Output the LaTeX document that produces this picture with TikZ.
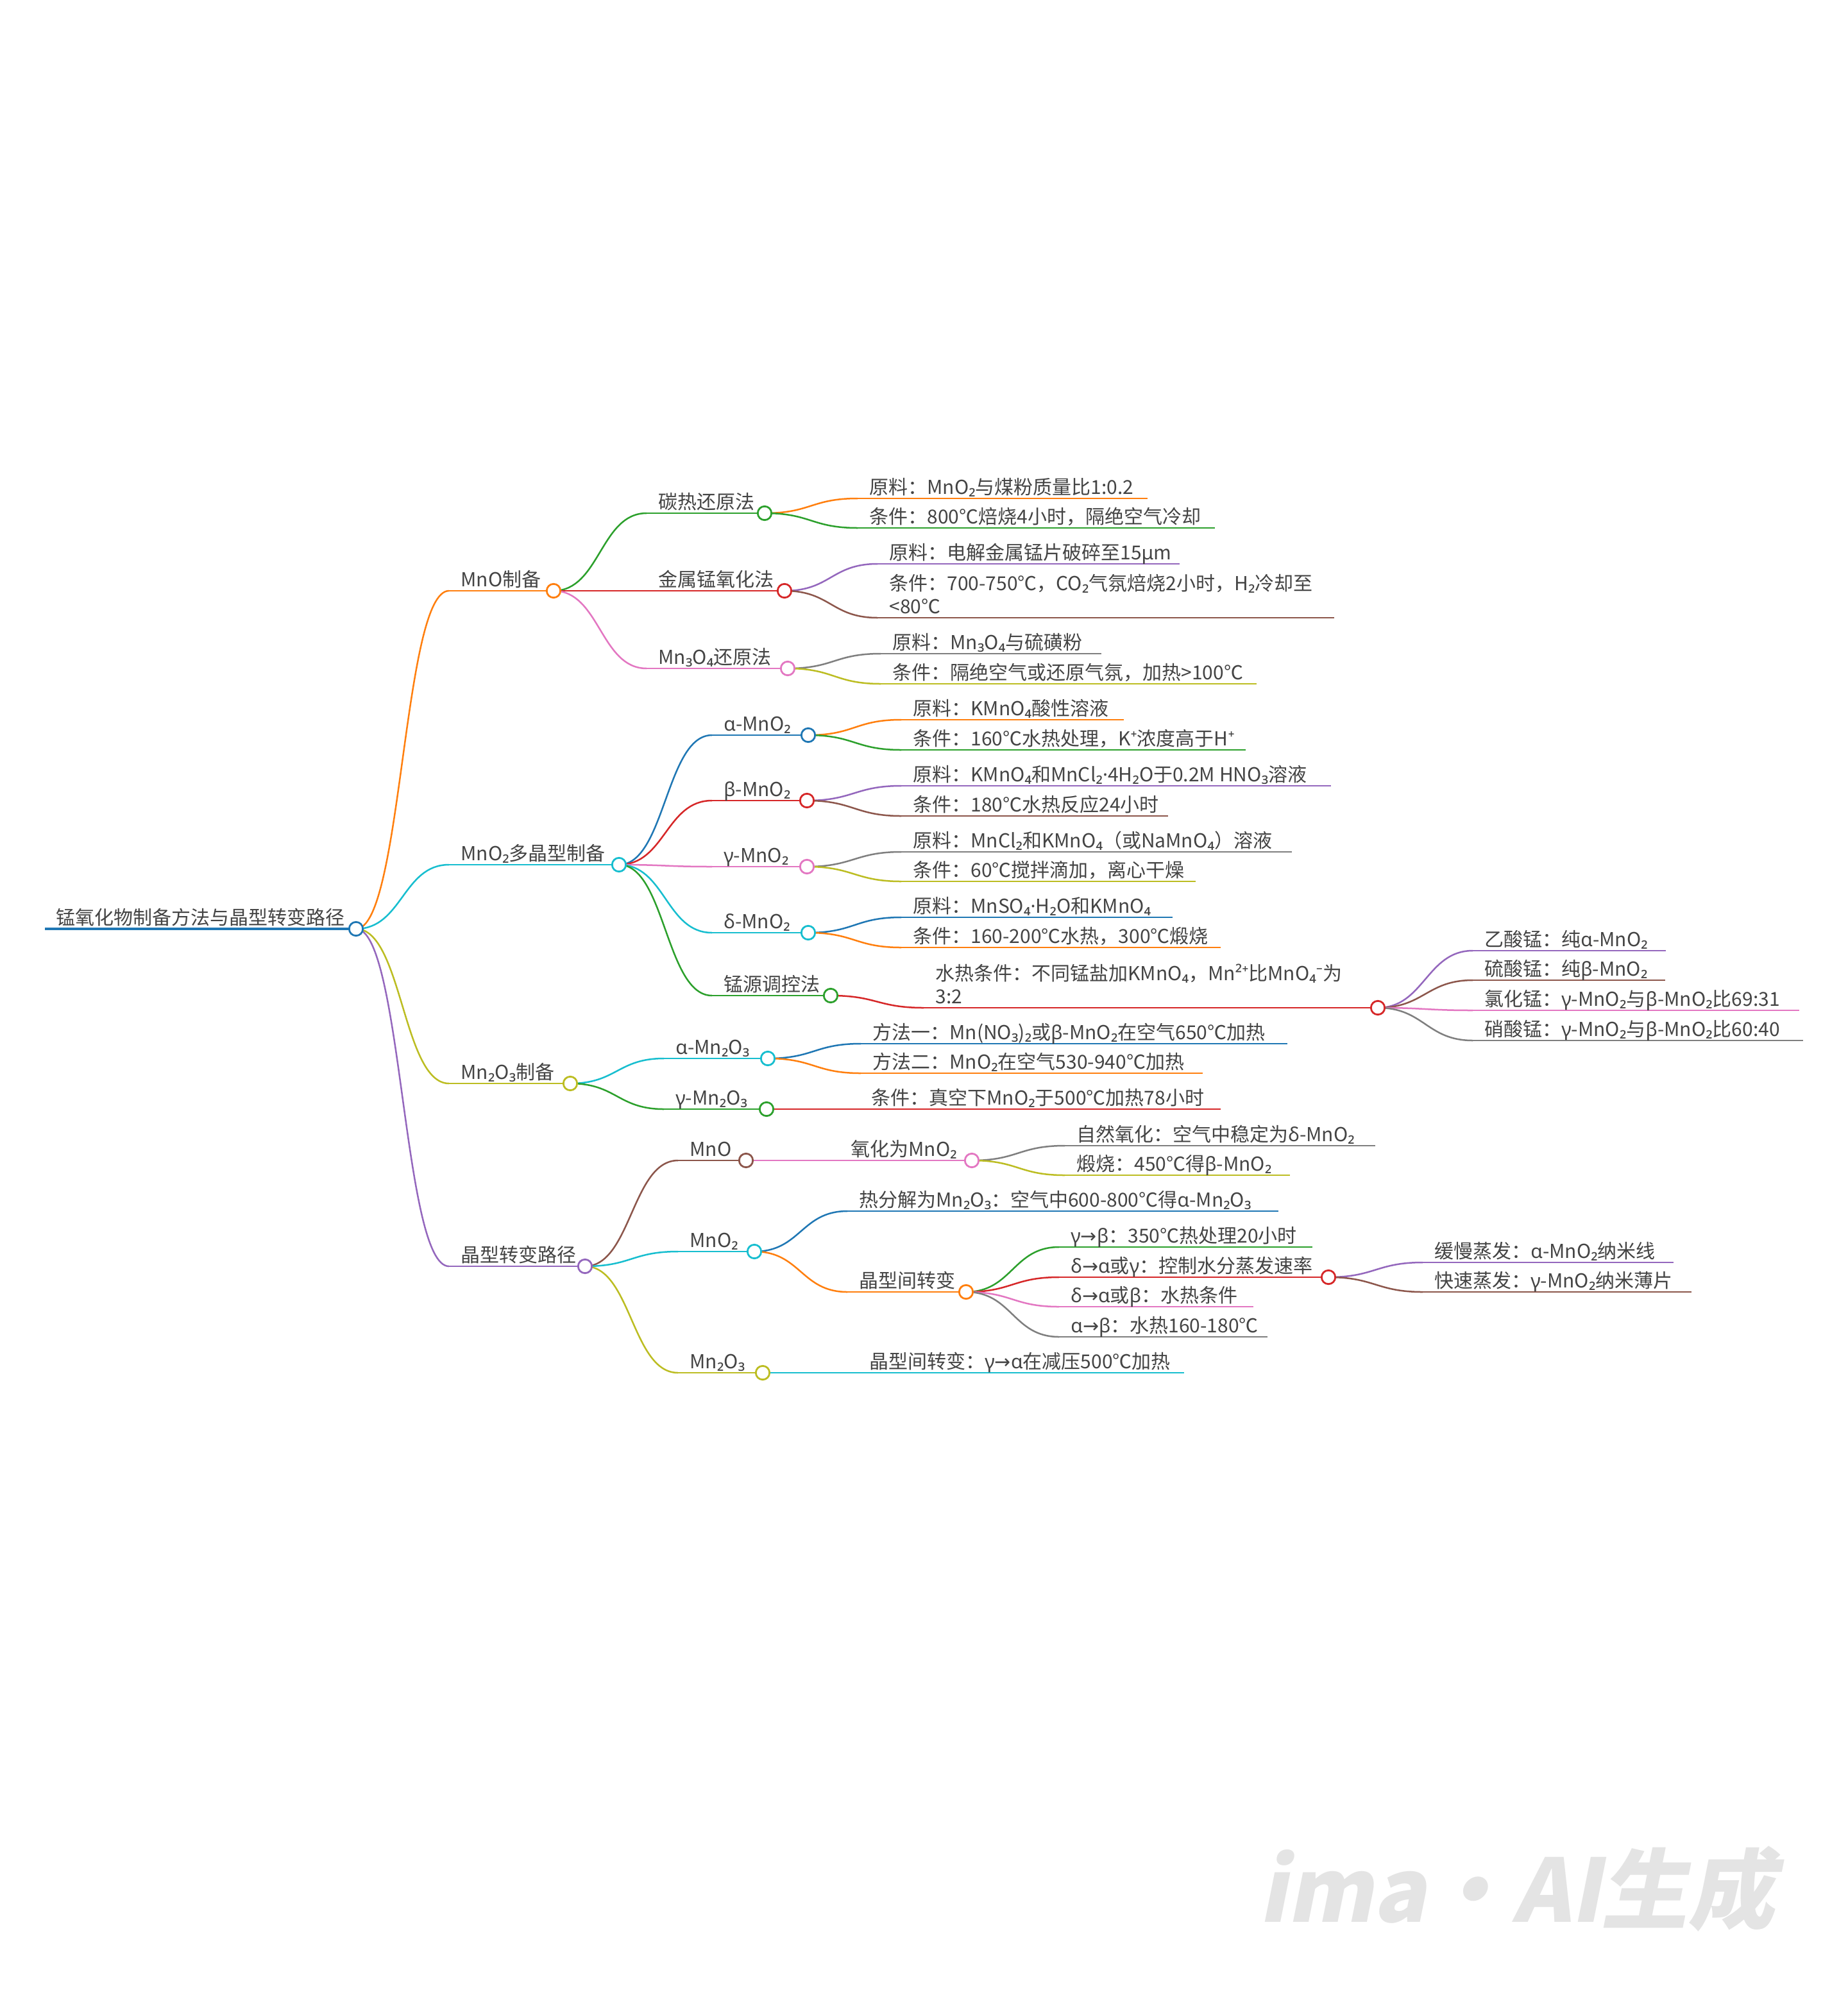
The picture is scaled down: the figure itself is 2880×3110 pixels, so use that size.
\documentclass[tikz,border=0pt]{standalone}
\usepackage{fontspec}
\setmainfont{Noto Sans CJK SC}
\newfontfamily\fb{Noto Sans}
\newfontfamily\fa{DejaVu Sans}
\newfontfamily\wmf{Noto Sans CJK SC}[FakeSlant=0.2,BoldFeatures={FakeSlant=0.2}]
\definecolor{cBlue}{HTML}{1F77B4}
\definecolor{cOrange}{HTML}{FF7F0E}
\definecolor{cGreen}{HTML}{2CA02C}
\definecolor{cRed}{HTML}{D62728}
\definecolor{cPurple}{HTML}{9467BD}
\definecolor{cBrown}{HTML}{8C564B}
\definecolor{cPink}{HTML}{E377C2}
\definecolor{cGray}{HTML}{7F7F7F}
\definecolor{cOlive}{HTML}{BCBD22}
\definecolor{cCyan}{HTML}{17BECF}
\definecolor{txtc}{HTML}{444444}
\definecolor{wmc}{HTML}{E4E4E4}
\tikzset{
  ul/.style={line width=1.45pt},
  rootul/.style={line width=1.9pt},
  lk/.style={line width=1.25pt},
  dot/.style={circle, fill=white, line width=1.4pt, minimum size=10.7pt, inner sep=0pt},
  tx/.style={anchor=base west, inner sep=0pt, text=txtc, font=\fontsize{15}{18}\selectfont},
  wm/.style={anchor=base west, inner sep=0pt, text=wmc, font=\wmf\bfseries\fontsize{68}{80}\selectfont}
}
\newcommand\mnode[6]{%
  \coordinate (#1s) at (#2,#3);
  \coordinate (#1) at (#4,#3);
  \draw[ul,draw=#5] (#1s) -- (#1);
  \node[tx] (#1t) at (#2+18,#3-7) {#6};}
\newcommand\mnodeii[7]{%
  \coordinate (#1s) at (#2,#3);
  \coordinate (#1) at (#4,#3);
  \draw[ul,draw=#5] (#1s) -- (#1);
  \node[tx] (#1t) at (#2+18,#3-7) {\begin{tabular}[b]{@{}l@{}}#6\\#7\end{tabular}};}
\newcommand\lnk[3]{\draw[lk,draw=#3] (#1) to[out=0,in=180,out distance=36pt,in distance=36pt] (#2s);}
\newcommand\dotc[2]{\node[dot,draw=#2] (#1c) at (#1) {};}
\begin{document}
\begin{tikzpicture}[x=0.5pt,y=-0.5pt]
\fill[white] (0,0) rectangle (2880,3110);
\useasboundingbox (0,0) rectangle (2880,3110);
% root
\coordinate (rs) at (70,1448);
\coordinate (r) at (555,1448);
\draw[rootul,draw=cBlue] (rs) -- (r);
\node[tx] (rt) at (87,1441) {锰氧化物制备方法与晶型转变路径};
% level 1
\mnode{a}{700}{921}{863}{cOrange}{MnO制备}
\mnode{b}{700}{1348}{965}{cCyan}{MnO{\fb ₂}多晶型制备}
\mnode{c}{700}{1689}{889}{cOlive}{Mn{\fb ₂}O{\fb ₃}制备}
\mnode{d}{700}{1974}{912}{cPurple}{晶型转变路径}
% MnO
\mnode{a1}{1008}{800}{1192}{cGreen}{碳热还原法}
\mnode{a2}{1008}{921}{1223}{cRed}{金属锰氧化法}
\mnode{a3}{1008}{1042}{1228}{cPink}{Mn{\fb ₃}O{\fb ₄}还原法}
\mnode{a1a}{1337}{777}{1789}{cOrange}{原料：MnO{\fb ₂}与煤粉质量比1:0.2}
\mnode{a1b}{1337}{823}{1894}{cGreen}{条件：800℃焙烧4小时，隔绝空气冷却}
\mnode{a2a}{1368}{879}{1839}{cPurple}{原料：电解金属锰片破碎至15{\fb μ}m}
\mnodeii{a2b}{1368}{963}{2080}{cBrown}{条件：700-750℃，CO{\fb ₂}气氛焙烧2小时，H{\fb ₂}冷却至}{<80℃}
\mnode{a3a}{1373}{1019}{1717}{cGray}{原料：Mn{\fb ₃}O{\fb ₄}与硫磺粉}
\mnode{a3b}{1373}{1066}{1959}{cOlive}{条件：隔绝空气或还原气氛，加热>100℃}
% MnO2
\mnode{b1}{1110}{1146}{1260}{cBlue}{{\fb α}-MnO{\fb ₂}}
\mnode{b2}{1110}{1248}{1258}{cRed}{{\fb β}-MnO{\fb ₂}}
\mnode{b3}{1110}{1351}{1258}{cPink}{{\fb γ}-MnO{\fb ₂}}
\mnode{b4}{1110}{1454}{1260}{cCyan}{{\fb δ}-MnO{\fb ₂}}
\mnode{b5}{1110}{1552}{1295}{cGreen}{锰源调控法}
\mnode{b1a}{1405}{1122}{1752}{cOrange}{原料：KMnO{\fb ₄}酸性溶液}
\mnode{b1b}{1405}{1169}{1942}{cGreen}{条件：160℃水热处理，K{\fb ⁺}浓度高于H{\fb ⁺}}
\mnode{b2a}{1405}{1225}{2075}{cPurple}{原料：KMnO{\fb ₄}和MnCl{\fb ₂·}4H{\fb ₂}O于0.2M HNO{\fb ₃}溶液}
\mnode{b2b}{1405}{1272}{1821}{cBrown}{条件：180℃水热反应24小时}
\mnode{b3a}{1405}{1328}{2014}{cGray}{原料：MnCl{\fb ₂}和KMnO{\fb ₄}（或NaMnO{\fb ₄}）溶液}
\mnode{b3b}{1405}{1374}{1864}{cOlive}{条件：60℃搅拌滴加，离心干燥}
\mnode{b4a}{1405}{1430}{1828}{cBlue}{原料：MnSO{\fb ₄·}H{\fb ₂}O和KMnO{\fb ₄}}
\mnode{b4b}{1405}{1477}{1903}{cOrange}{条件：160-200℃水热，300℃煅烧}
\mnodeii{b5a}{1440}{1571}{2148}{cRed}{水热条件：不同锰盐加KMnO{\fb ₄}，Mn{\fb ²⁺}比MnO{\fb ₄⁻}为}{3:2}
\mnode{b5a1}{2296}{1482}{2597}{cPurple}{乙酸锰：纯{\fb α}-MnO{\fb ₂}}
\mnode{b5a2}{2296}{1528}{2596}{cBrown}{硫酸锰：纯{\fb β}-MnO{\fb ₂}}
\mnode{b5a3}{2296}{1575}{2805}{cPink}{氯化锰：{\fb γ}-MnO{\fb ₂}与{\fb β}-MnO{\fb ₂}比69:31}
\mnode{b5a4}{2296}{1622}{2811}{cGray}{硝酸锰：{\fb γ}-MnO{\fb ₂}与{\fb β}-MnO{\fb ₂}比60:40}
% Mn2O3
\mnode{c1}{1035}{1650}{1197}{cCyan}{{\fb α}-Mn{\fb ₂}O{\fb ₃}}
\mnode{c2}{1035}{1729}{1195}{cGreen}{{\fb γ}-Mn{\fb ₂}O{\fb ₃}}
\mnode{c1a}{1342}{1627}{2007}{cBlue}{方法一：Mn(NO{\fb ₃}){\fb ₂}或{\fb β}-MnO{\fb ₂}在空气650℃加热}
\mnode{c1b}{1342}{1673}{1875}{cOrange}{方法二：MnO{\fb ₂}在空气530-940℃加热}
\mnode{c2a}{1340}{1729}{1903}{cRed}{条件：真空下MnO{\fb ₂}于500℃加热78小时}
% transformation
\mnode{d1}{1057}{1809}{1163}{cBrown}{MnO}
\mnode{d2}{1057}{1951}{1176}{cCyan}{MnO{\fb ₂}}
\mnode{d3}{1057}{2140}{1189}{cOlive}{Mn{\fb ₂}O{\fb ₃}}
\mnode{d1a}{1308}{1809}{1515}{cPink}{氧化为MnO{\fb ₂}}
\mnode{d1a1}{1660}{1786}{2144}{cGray}{自然氧化：空气中稳定为{\fb δ}-MnO{\fb ₂}}
\mnode{d1a2}{1660}{1832}{2011}{cOlive}{煅烧：450℃得{\fb β}-MnO{\fb ₂}}
\mnode{d2a}{1321}{1888}{1993}{cBlue}{热分解为Mn{\fb ₂}O{\fb ₃}：空气中600-800℃得{\fb α}-Mn{\fb ₂}O{\fb ₃}}
\mnode{d2b}{1321}{2014}{1506}{cOrange}{晶型间转变}
\mnode{d2b1}{1651}{1944}{2046}{cGreen}{{\fb γ}{\fa →}{\fb β}：350℃热处理20小时}
\mnode{d2b2}{1651}{1991}{2071}{cRed}{{\fb δ}{\fa →}{\fb α}或{\fb γ}：控制水分蒸发速率}
\mnode{d2b3}{1651}{2037}{1954}{cPink}{{\fb δ}{\fa →}{\fb α}或{\fb β}：水热条件}
\mnode{d2b4}{1651}{2084}{1976}{cGray}{{\fb α}{\fa →}{\fb β}：水热160-180℃}
\mnode{d2b2a}{2218}{1968}{2609}{cPurple}{缓慢蒸发：{\fb α}-MnO{\fb ₂}纳米线}
\mnode{d2b2b}{2218}{2014}{2637}{cBrown}{快速蒸发：{\fb γ}-MnO{\fb ₂}纳米薄片}
\mnode{d3a}{1337}{2140}{1846}{cCyan}{晶型间转变：{\fb γ}{\fa →}{\fb α}在减压500℃加热}
% links
\lnk{r}{a}{cOrange}\lnk{r}{b}{cCyan}\lnk{r}{c}{cOlive}\lnk{r}{d}{cPurple}
\lnk{a}{a1}{cGreen}\lnk{a}{a2}{cRed}\lnk{a}{a3}{cPink}
\lnk{a1}{a1a}{cOrange}\lnk{a1}{a1b}{cGreen}
\lnk{a2}{a2a}{cPurple}\lnk{a2}{a2b}{cBrown}
\lnk{a3}{a3a}{cGray}\lnk{a3}{a3b}{cOlive}
\lnk{b}{b1}{cBlue}\lnk{b}{b2}{cRed}\lnk{b}{b3}{cPink}\lnk{b}{b4}{cCyan}\lnk{b}{b5}{cGreen}
\lnk{b1}{b1a}{cOrange}\lnk{b1}{b1b}{cGreen}
\lnk{b2}{b2a}{cPurple}\lnk{b2}{b2b}{cBrown}
\lnk{b3}{b3a}{cGray}\lnk{b3}{b3b}{cOlive}
\lnk{b4}{b4a}{cBlue}\lnk{b4}{b4b}{cOrange}
\lnk{b5}{b5a}{cRed}
\lnk{b5a}{b5a1}{cPurple}\lnk{b5a}{b5a2}{cBrown}\lnk{b5a}{b5a3}{cPink}\lnk{b5a}{b5a4}{cGray}
\lnk{c}{c1}{cCyan}\lnk{c}{c2}{cGreen}
\lnk{c1}{c1a}{cBlue}\lnk{c1}{c1b}{cOrange}
\lnk{c2}{c2a}{cRed}
\lnk{d}{d1}{cBrown}\lnk{d}{d2}{cCyan}\lnk{d}{d3}{cOlive}
\lnk{d1}{d1a}{cPink}
\lnk{d1a}{d1a1}{cGray}\lnk{d1a}{d1a2}{cOlive}
\lnk{d2}{d2a}{cBlue}\lnk{d2}{d2b}{cOrange}
\lnk{d2b}{d2b1}{cGreen}\lnk{d2b}{d2b2}{cRed}\lnk{d2b}{d2b3}{cPink}\lnk{d2b}{d2b4}{cGray}
\lnk{d2b2}{d2b2a}{cPurple}\lnk{d2b2}{d2b2b}{cBrown}
\lnk{d3}{d3a}{cCyan}
% circles
\dotc{r}{cBlue}\dotc{a}{cOrange}\dotc{b}{cCyan}\dotc{c}{cOlive}\dotc{d}{cPurple}
\dotc{a1}{cGreen}\dotc{a2}{cRed}\dotc{a3}{cPink}
\dotc{b1}{cBlue}\dotc{b2}{cRed}\dotc{b3}{cPink}\dotc{b4}{cCyan}\dotc{b5}{cGreen}\dotc{b5a}{cRed}
\dotc{c1}{cCyan}\dotc{c2}{cGreen}
\dotc{d1}{cBrown}\dotc{d1a}{cPink}\dotc{d2}{cCyan}\dotc{d2b}{cOrange}\dotc{d2b2}{cRed}\dotc{d3}{cOlive}
% watermark
\node[wm] (wmk) at (1962,2996) {ima·AI生成};
\end{tikzpicture}
\end{document}
